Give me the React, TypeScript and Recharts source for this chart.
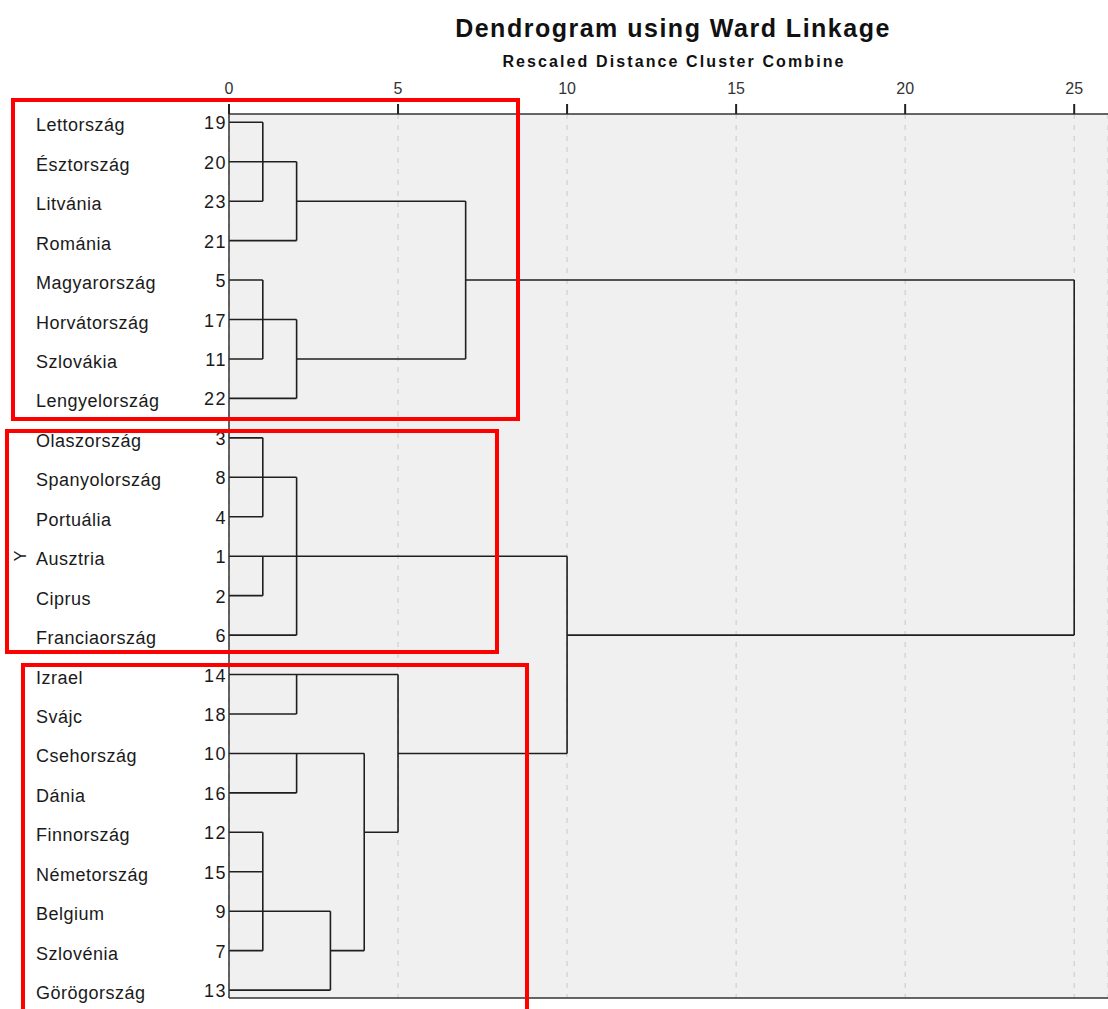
import React from "react";
import { CartesianGrid, ComposedChart, Line, ReferenceLine, XAxis, YAxis } from "recharts";

const FONT = "'Liberation Sans', Arial, sans-serif";

// leaves, top to bottom
const countries = [
  "Lettország", "Észtország", "Litvánia", "Románia", "Magyarország", "Horvátország",
  "Szlovákia", "Lengyelország", "Olaszország", "Spanyolország", "Portuália", "Ausztria",
  "Ciprus", "Franciaország", "Izrael", "Svájc", "Csehország", "Dánia", "Finnország",
  "Németország", "Belgium", "Szlovénia", "Görögország",
];
const caseNumbers = [19, 20, 23, 21, 5, 17, 11, 22, 3, 8, 4, 1, 2, 6, 14, 18, 10, 16, 12, 15, 9, 7, 13];
const distanceTicks = [0, 5, 10, 15, 20, 25];

// horizontal branches: [leaf row, from distance, to distance]
const horizontalBranches: [number, number, number][] = [
  [0, 0, 1], [1, 0, 2], [2, 0, 1], [2, 2, 7], [3, 0, 2], [4, 0, 1], [4, 7, 25],
  [5, 0, 2], [6, 0, 1], [6, 2, 7], [7, 0, 2],
  [8, 0, 1], [9, 0, 2], [10, 0, 1], [11, 0, 10], [12, 0, 1], [13, 0, 2], [13, 10, 25],
  [14, 0, 5], [15, 0, 2], [16, 0, 4], [16, 5, 10], [17, 0, 2], [18, 0, 1], [18, 4, 5],
  [19, 0, 1], [20, 0, 3], [21, 0, 1], [21, 3, 4], [22, 0, 3],
];

// vertical joins: [merge distance, first row, last row]
const verticalJoins: [number, number, number][] = [
  [1, 0, 2], [2, 1, 3], [1, 4, 6], [2, 5, 7], [7, 2, 6],
  [1, 8, 10], [1, 11, 12], [2, 9, 13],
  [2, 14, 15], [2, 16, 17], [1, 18, 21], [3, 20, 22], [4, 16, 21], [5, 14, 18],
  [10, 11, 16], [25, 4, 13],
];

const segments = [
  ...horizontalBranches.map(([row, from, to]) => [{ d: from, row }, { d: to, row }]),
  ...verticalJoins.map(([d, r1, r2]) => [{ d, row: r1 }, { d, row: r2 }]),
];

function LeafTick({ y, payload }: any) {
  const i = payload.value;
  return (
    <g>
      <text x={36} y={y + 3} dominantBaseline="central" fontSize={18} letterSpacing={0.5} fill="#1a1a1a" fontFamily={FONT}>
        {countries[i]}
      </text>
      <text x={227} y={y + 1} dominantBaseline="central" textAnchor="end" fontSize={18} letterSpacing={1.5} fill="#1a1a1a" fontFamily={FONT}>
        {caseNumbers[i]}
      </text>
    </g>
  );
}

function AxisTitle({ viewBox }: any) {
  const cx = 20;
  const cy = viewBox.y + viewBox.height / 2;
  return (
    <text x={cx} y={cy} transform={`rotate(-90, ${cx}, ${cy})`} textAnchor="middle" dominantBaseline="central" fontSize={16} fill="#222" fontFamily={FONT}>
      Y
    </text>
  );
}

const boxStyle = { position: "absolute" as const, border: "4px solid #ff0000", boxSizing: "border-box" as const };

export default function App() {
  return (
    <div style={{ position: "absolute", left: 0, top: 0, width: 1108, height: 1009, overflow: "hidden", background: "#fff", fontFamily: FONT }}>
      <div style={{ position: "absolute", left: 0, width: 1346, top: 14, textAlign: "center", fontSize: 25, fontWeight: "bold", letterSpacing: 1.5, color: "#111" }}>
        Dendrogram using Ward Linkage
      </div>
      <div style={{ position: "absolute", left: 0, width: 1348, top: 53, textAlign: "center", fontSize: 16, fontWeight: "bold", letterSpacing: 2.1, color: "#111" }}>
        Rescaled Distance Cluster Combine
      </div>
      <div style={{ position: "absolute", left: 0, top: 0 }}>
        <ComposedChart width={1108} height={1009} margin={{ top: 84, right: 0, bottom: 11, left: 0 }}>
          <CartesianGrid horizontal={false} strokeDasharray="5 6" stroke="#c8c8c8" fill="#f0f0f0" fillOpacity={1} />
          <XAxis
            type="number"
            dataKey="d"
            orientation="top"
            height={30}
            domain={[0, 26]}
            ticks={distanceTicks}
            allowDataOverflow
            tickSize={10}
            tickMargin={10}
            tickLine={{ stroke: "#222", strokeWidth: 2 }}
            axisLine={{ stroke: "#333", strokeWidth: 1.5 }}
            tick={{ fontSize: 16, fill: "#333", fontFamily: FONT }}
          />
          <YAxis
            type="number"
            dataKey="row"
            width={229}
            domain={[-0.21, 22.2]}
            reversed
            ticks={countries.map((_, i) => i)}
            interval={0}
            allowDataOverflow
            tickLine={false}
            axisLine={{ stroke: "#333", strokeWidth: 1.5 }}
            tick={<LeafTick />}
            label={{ content: <AxisTitle /> }}
          />
          <ReferenceLine y={22.2} stroke="#333" strokeWidth={1.5} />
          {segments.map((pts, k) => (
            <Line
              key={k}
              data={pts}
              dataKey="row"
              type="linear"
              stroke="#1f1f1f"
              strokeWidth={1.6}
              dot={false}
              activeDot={false}
              isAnimationActive={false}
            />
          ))}
        </ComposedChart>
      </div>
      <div style={{ ...boxStyle, left: 11, top: 98, width: 509, height: 323 }} />
      <div style={{ ...boxStyle, left: 5, top: 429, width: 494, height: 225 }} />
      <div style={{ ...boxStyle, left: 21, top: 663, width: 508, height: 420 }} />
    </div>
  );
}
